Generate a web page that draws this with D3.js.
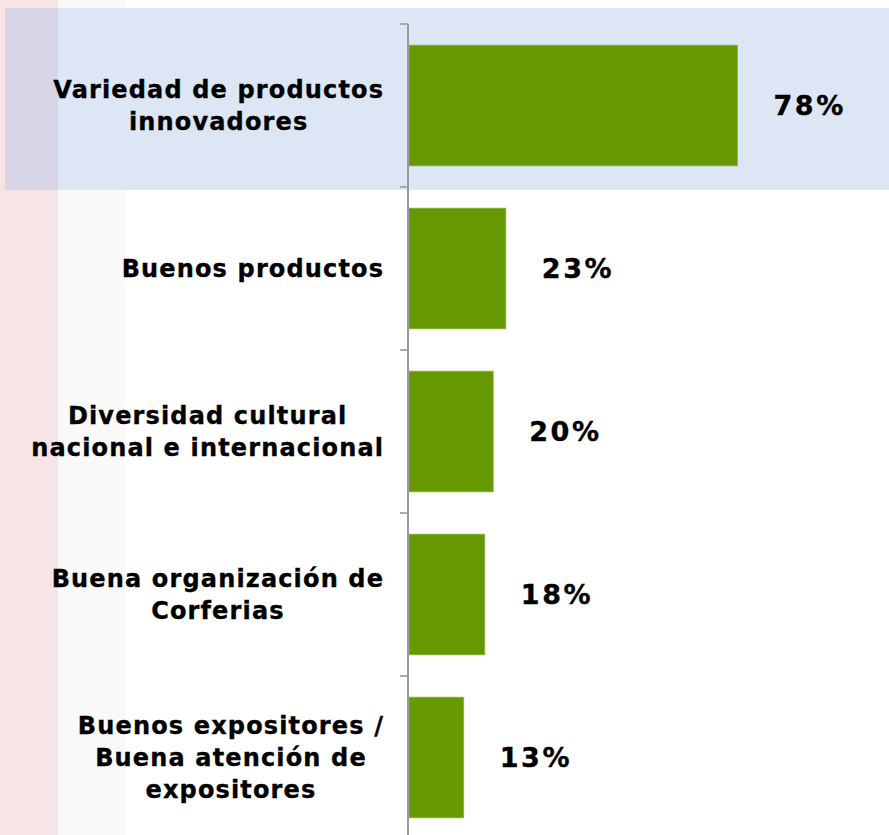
<!DOCTYPE html>
<html>
<head>
<meta charset="utf-8">
<script src="https://cdn.jsdelivr.net/npm/d3@7/dist/d3.min.js"></script>
<style>
  html, body { margin: 0; padding: 0; background: #ffffff; }
  svg { display: block; }
  text { font-family: "DejaVu Sans", Verdana, sans-serif; font-weight: bold; fill: #000; stroke: #000; stroke-width: 0.35px; }
</style>
</head>
<body>
<svg id="chart" width="889" height="835"></svg>
<script>
// Categories (each entry split into its display lines) and their shares
const categories = [
  ["Variedad de productos", "innovadores"],
  ["Buenos productos"],
  ["Diversidad cultural", "nacional e internacional"],
  ["Buena organización de", "Corferias"],
  ["Buenos expositores /", "Buena atención de", "expositores"]
];
const values = [78, 23, 20, 18, 13];
const valueLabels = ["78%", "23%", "20%", "18%", "13%"];

const W = 889, H = 835;
const svg = d3.select("#chart");

// Decorative backdrop: pale side strip and the highlight band behind the top item
svg.append("rect").attr("x", 0).attr("y", 0).attr("width", 58).attr("height", H).attr("fill", "#f7e4e6");
svg.append("rect").attr("x", 58).attr("y", 0).attr("width", 67).attr("height", H).attr("fill", "#f9f9f9");
svg.append("rect").attr("x", 5).attr("y", 8).attr("width", W - 5).attr("height", 182).attr("fill", "#dce6f4");
svg.append("rect").attr("x", 5).attr("y", 8).attr("width", 53).attr("height", 182).attr("fill", "#d8d5e6");

const axisX = 409;
const x = d3.scaleLinear().domain([0, 100]).range([axisX, 830]);
const y = d3.scaleBand()
  .domain(d3.range(categories.length))
  .range([24, 24 + 163 * categories.length])
  .paddingInner(0.26)
  .paddingOuter(0.13);

// Bars
svg.append("g").selectAll("rect")
  .data(values)
  .join("rect")
  .attr("x", x(0))
  .attr("y", (d, i) => y(i))
  .attr("width", d => x(d) - x(0))
  .attr("height", y.bandwidth())
  .attr("fill", "#669900")
  .attr("stroke", "#86b23c")
  .attr("stroke-width", 0.8);

// Category axis with ticks between bands
const axisG = svg.append("g").attr("stroke", "#9a9a9a");
const [r0, r1] = y.range();
axisG.append("line")
  .attr("x1", axisX - 1).attr("x2", axisX - 1)
  .attr("y1", r0).attr("y2", r1)
  .attr("stroke-width", 2);
const boundaries = d3.range(categories.length + 1).map(i => r0 + i * y.step());
axisG.selectAll("line.tick")
  .data(boundaries)
  .join("line")
  .attr("class", "tick")
  .attr("x1", axisX - 9).attr("x2", axisX - 1)
  .attr("y1", d => d).attr("y2", d => d)
  .attr("stroke-width", 1.6);

// Value labels
svg.append("g").selectAll("text")
  .data(values)
  .join("text")
  .attr("x", d => x(d) + 36)
  .attr("y", (d, i) => y(i) + y.bandwidth() / 2)
  .attr("dy", "0.36em")
  .style("font-size", "27px")
  .style("letter-spacing", "2.6px")
  .text((d, i) => valueLabels[i]);

// Category labels: block right-aligned to the axis, lines centered within the block
const labelRight = 383;
const lineH = 32;
const spacing = 1.15;
const labG = svg.append("g");
categories.forEach((lines, i) => {
  const g = labG.append("g");
  const cy = y(i) + y.bandwidth() / 2;
  const texts = lines.map((ln, k) => g.append("text")
    .style("font-size", "24px")
    .style("letter-spacing", spacing + "px")
    .attr("text-anchor", "middle")
    .attr("y", cy + (k - (lines.length - 1) / 2) * lineH)
    .attr("dy", "0.36em")
    .text(ln));
  const maxW = d3.max(texts, t => t.node().getComputedTextLength()) - spacing;
  texts.forEach(t => t.attr("x", labelRight - maxW / 2 + spacing / 2));
});
</script>
</body>
</html>
